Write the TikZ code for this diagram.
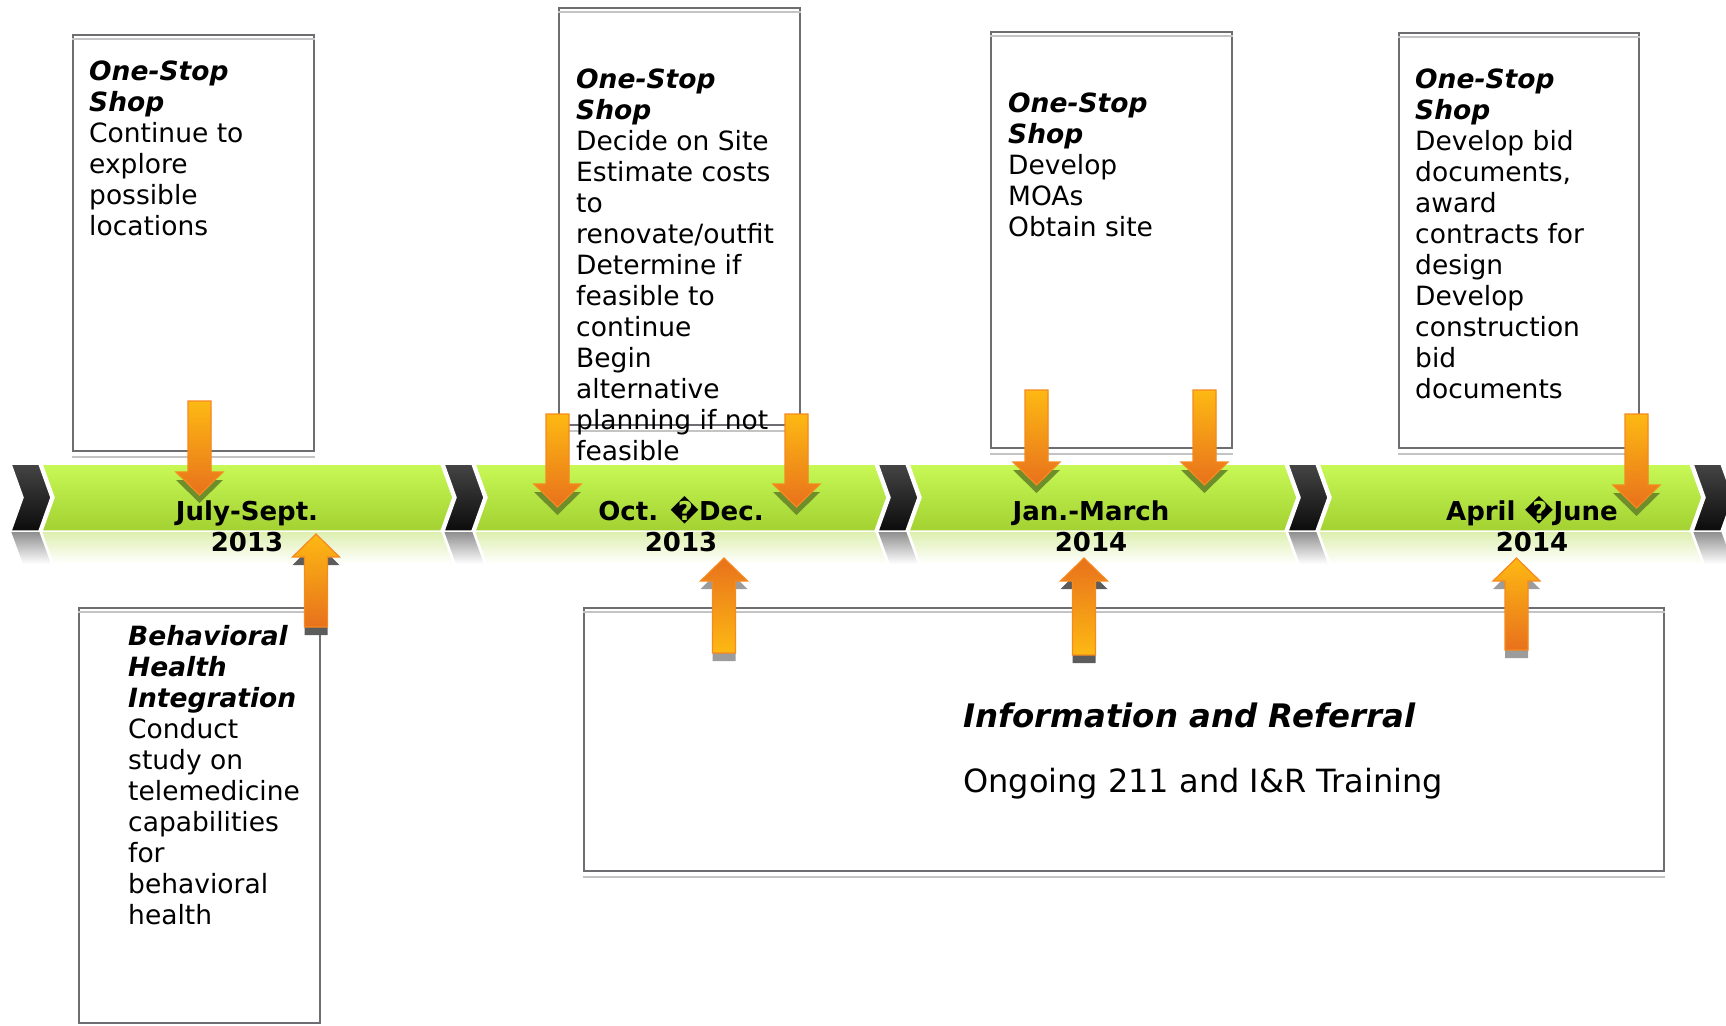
\documentclass[tikz,border=0pt]{standalone}
\usepackage{fontspec}
\setmainfont{DejaVu Sans}[ItalicFont={DejaVu Sans Oblique},BoldItalicFont={DejaVu Sans Bold Oblique}]
\usetikzlibrary{positioning}
\definecolor{bandtop}{HTML}{C8F956}
\definecolor{bandbot}{HTML}{A2D131}
\definecolor{bandref}{HTML}{DDEFAE}
\definecolor{chevtop}{HTML}{454545}
\definecolor{chevbot}{HTML}{0B0B0B}
\definecolor{chevref}{HTML}{8C8C8C}
\definecolor{arrowyel}{HTML}{FDB913}
\definecolor{arroworg}{HTML}{E8711C}
\definecolor{arrowline}{HTML}{F6891F}
\definecolor{olivedrop}{HTML}{6E8E2C}
\definecolor{greydrop}{HTML}{5C5C5C}
\definecolor{greylight}{HTML}{9C9C9C}
\definecolor{boxline}{HTML}{6D6E71}
\definecolor{boxshade}{HTML}{C4C4C4}
\newcommand{\stage}[1]{\textbf{\textit{#1}}}
\newcommand{\badchar}{\smash{\char"FFFD}}
% block arrow: centre x, tail y, tip y, drop colour, top colour, bottom colour
\newcommand{\blockarrow}[6]{%
  \pgfmathsetmacro{\headbase}{#2>#3 ? #3+23 : #3-23}%
  \fill[#4,shift={(0,8)}] (#1-11.5,#2) -- (#1+11.5,#2) -- (#1+11.5,\headbase) -- (#1+23.5,\headbase)
    -- (#1,#3) -- (#1-23.5,\headbase) -- (#1-11.5,\headbase) -- cycle;
  \shadedraw[top color=#5,bottom color=#6,draw=arrowline,line width=1.2pt]
    (#1-11.5,#2) -- (#1+11.5,#2) -- (#1+11.5,\headbase) -- (#1+23.5,\headbase)
    -- (#1,#3) -- (#1-23.5,\headbase) -- (#1-11.5,\headbase) -- cycle;
}

\begin{document}
\begin{tikzpicture}[x=1pt,y=-1pt,
  plan/.style={draw=boxline,line width=1.8pt,fill=white,inner sep=0pt,anchor=north west},
  plantext/.style={align=left,inner sep=0pt,font=\fontsize{26.5}{31}\selectfont},
  period/.style={align=center,inner sep=0pt,anchor=north,font=\bfseries\fontsize{26}{31}\selectfont}]
  \useasboundingbox (0,0) rectangle (1726,1025);

  % timeline band
  \foreach \a/\b in {11/444,444/878,878/1288,1288/1693} {
    \shade[top color=bandref,bottom color=white] (\a+31,531) -- (\b-3,531) -- (\b+9,564) -- (\a+43,564) -- cycle;
    \shadedraw[top color=bandtop,bottom color=bandbot,draw=white,line width=1.5pt]
      (\a+31,464) -- (\b-3,464) -- (\b+9,497.5) -- (\b-3,531) -- (\a+31,531) -- (\a+43,497.5) -- cycle;
  }
  \foreach \c in {11,444,878,1288,1693} {
    \shade[top color=chevref,bottom color=white] (\c,531) -- (\c+28,531) -- (\c+40,564) -- (\c+12,564) -- cycle;
    \shadedraw[top color=chevtop,bottom color=chevbot,draw=white,line width=1.5pt]
      (\c,464) -- (\c+28,464) -- (\c+40,497.5) -- (\c+28,531) -- (\c,531) -- (\c+12,497.5) -- cycle;
  }

  % quarters
  \node[period] (q1) at (247,501) {July-Sept.\\2013};
  \node[period] (q2) at (681,501) {Oct. \badchar Dec.\\2013};
  \node[period] (q3) at (1091,501) {Jan.-March\\2014};
  \node[period] (q4) at (1532,501) {April \badchar June\\2014};

  % task boxes
  \node[plan,minimum width=241pt,minimum height=416pt] (b1) at (72,34) {};
  \node[plan,minimum width=241pt,minimum height=417pt] (b2) at (558,7) {};
  \node[plan,minimum width=241pt,minimum height=416pt] (b3) at (990,31) {};
  \node[plan,minimum width=240pt,minimum height=415pt] (b4) at (1398,32) {};
  \node[plan,minimum width=241pt,minimum height=415pt] (b5) at (78,607) {};
  \node[plan,minimum width=1080pt,minimum height=263pt] (b6) at (583,607) {};
  \foreach \b in {b1,b2,b3,b4,b5,b6} {
    \draw[boxshade,line width=1.8pt] ([yshift=-5pt]\b.north west) -- ([yshift=-5pt]\b.north east);
    \draw[boxshade,line width=1.8pt] ([yshift=-5pt]\b.south west) -- ([yshift=-5pt]\b.south east);
  }

  \node[plantext,below right=27pt and 17pt of b1.north west] (t1)
    {\stage{One-Stop}\\\stage{Shop}\\Continue to\\explore\\possible\\locations};
  \node[plantext,below right=62pt and 18pt of b2.north west] (t2)
    {\stage{One-Stop}\\\stage{Shop}\\Decide on Site\\Estimate costs\\to\\renovate/outfit\\Determine if\\feasible to\\continue\\Begin\\alternative\\planning if not\\feasible};
  \node[plantext,below right=62pt and 18pt of b3.north west] (t3)
    {\stage{One-Stop}\\\stage{Shop}\\Develop\\MOAs\\Obtain site};
  \node[plantext,below right=37pt and 17pt of b4.north west] (t4)
    {\stage{One-Stop}\\\stage{Shop}\\Develop bid\\documents,\\award\\contracts for\\design\\Develop\\construction\\bid\\documents};
  \node[plantext,below right=18pt and 50pt of b5.north west] (t5)
    {\stage{Behavioral}\\\stage{Health}\\\stage{Integration}\\Conduct\\study on\\telemedicine\\capabilities\\for\\behavioral\\health};
  \node[plantext,below right=96pt and 380pt of b6.north west,font=\fontsize{32}{65}\selectfont] (t6)
    {{\fontsize{32.4}{65}\selectfont\stage{Information and Referral}}\\Ongoing 211 and I\&R Training};

  % arrows into the band
  \blockarrow{199.5}{401}{495}{olivedrop}{arrowyel}{arroworg}
  \blockarrow{557.5}{414}{507}{olivedrop}{arrowyel}{arroworg}
  \blockarrow{796.5}{414}{507}{olivedrop}{arrowyel}{arroworg}
  \blockarrow{1036.5}{390}{485}{olivedrop}{arrowyel}{arroworg}
  \blockarrow{1204.5}{390}{485}{olivedrop}{arrowyel}{arroworg}
  \blockarrow{1636.5}{414}{508}{olivedrop}{arrowyel}{arroworg}
  \blockarrow{316}{627}{534}{greydrop}{arrowyel}{arroworg}
  \blockarrow{724}{653}{558}{greylight}{arroworg}{arrowyel}
  \blockarrow{1084}{655}{558}{greydrop}{arroworg}{arrowyel}
  \blockarrow{1516.5}{650}{558}{greylight}{arrowyel}{arroworg}
\end{tikzpicture}
\end{document}
